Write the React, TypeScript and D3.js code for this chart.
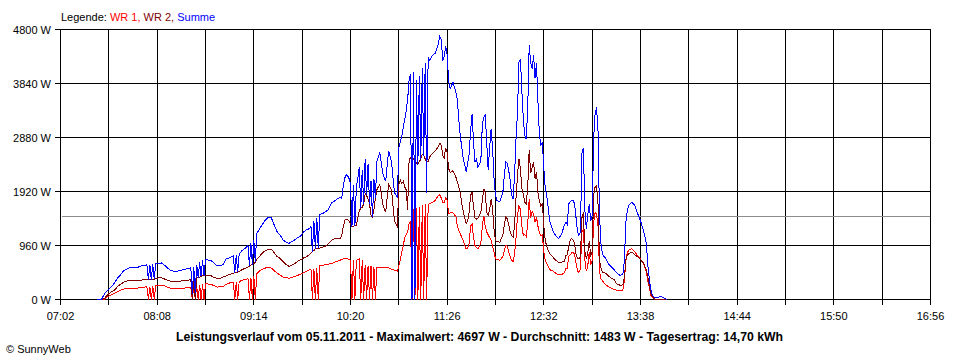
import React from "react";
import * as d3 from "d3";

// minutes since midnight
const times = [
  447,450,452,453,455,457,459,461,463,465,
  467,469,471,473,475,477,479,481,482,483,
  484,485,486,487,489,491,493,495,497,499,
  501,503,505,507,509,511,512,513,514,515,
  516,517,518,519,520,521,523,525,527,529,
  531,533,535,537,539,540,541,542,543,544,
  546,548,550,551,552,553,554,555,556,558,
  560,562,564,566,568,570,572,574,576,578,
  580,582,584,586,588,590,592,593,594,595,
  596,597,598,599,601,603,605,607,609,611,
  613,614,615,616,617,618,619,620,621,622,
  623,624,625,626,627,628,629,630,631,632,
  633,634,635,636,637,638,640,642,644,646,
  648,650,652,653,654,655,656,657,658,659,
  660,661,662,663,664,665,666,667,668,669,
  670,671,672,673,674,676,678,680,681,682,
  683,684,685,686,687,688,690,692,693,694,
  695,696,697,698,699,700,701,702,703,704,
  705,706,707,708,709,710,711,712,713,714,
  715,716,717,718,719,720,722,724,725,726,
  727,728,729,730,731,732,733,734,735,736,
  737,738,739,740,741,742,743,744,745,746,
  747,748,749,750,751,752,753,754,756,758,
  760,762,764,766,767,768,769,770,771,772,
  773,774,775,776,777,778,779,780,781,782,
  783,784,785,786,787,788,789,790,791,792,
  794,796,798,800,802,804,806,807,808,809,
  810,812,814,816,818,820,822,823,824,825,
  826,827,828,830,832,834,836,
];

// WR 1 (W)
const wr1 = [
  0,0,0,30,60,90,110,140,165,185,
  195,200,200,200,205,215,220,225,0,230,
  0,235,0,245,250,250,245,220,200,195,
  195,195,200,205,210,220,0,225,0,240,
  0,265,0,275,0,280,275,265,245,220,
  225,230,270,290,305,310,0,310,0,320,
  340,355,370,0,390,0,420,0,460,510,
  540,560,565,560,510,470,430,400,385,380,
  390,410,430,450,480,500,530,540,0,545,
  0,560,0,600,605,620,630,640,660,680,
  700,710,720,730,730,720,710,700,0,700,
  0,700,710,720,0,700,0,620,0,600,
  0,590,0,580,0,575,570,570,565,560,
  540,520,505,600,700,850,950,1100,1150,1200,
  1350,1380,0,1600,0,1620,0,1650,0,1680,
  0,1700,0,1680,1710,1720,1770,1850,1860,1800,
  1730,1720,1810,1760,1530,1540,1540,1470,1290,1230,
  1170,1100,1040,960,900,920,1000,1300,1350,1100,
  960,920,905,940,1000,1300,1490,1300,1200,1150,
  1100,1050,960,840,725,710,700,760,860,960,
  950,850,760,700,670,800,1100,1490,1670,1600,
  1300,1140,1150,1120,1350,1790,1450,1560,1520,1380,
  1460,1300,1180,1130,1150,840,700,640,530,510,
  470,440,440,480,545,550,770,790,830,840,
  800,650,500,480,550,1200,1250,700,500,600,
  840,620,700,1375,1550,1520,1300,500,370,330,
  270,230,200,180,160,160,170,330,690,830,
  880,900,850,780,720,650,480,330,230,80,
  40,10,0,0,0,0,0,
];

// WR 2 (W)
const wr2 = [
  0,0,20,50,100,140,170,230,270,305,
  325,340,340,340,340,345,350,352,355,355,
  355,360,360,370,385,385,365,340,325,325,
  325,325,330,335,345,350,0,360,0,385,
  390,400,410,420,425,425,425,420,390,375,
  370,400,420,440,460,470,475,480,490,500,
  530,555,575,590,610,620,640,660,710,770,
  830,870,895,890,830,760,730,670,620,590,
  610,640,680,710,740,760,800,820,850,870,
  900,905,910,915,930,950,990,1050,1080,1080,
  1080,1140,1280,1400,1430,1420,1400,1340,1300,1300,
  1310,1320,1450,1580,1620,1640,1700,1880,1850,1780,
  1700,1500,1460,1600,1800,1950,2050,1700,1550,2050,
  1950,1400,1300,2050,2120,2060,2100,2000,1950,1600,
  2470,2530,2520,2500,2480,2420,2410,2450,2500,2580,
  2560,2500,2450,2450,2530,2600,2650,2720,2780,2740,
  2560,2520,2700,2620,2330,2260,2290,2170,2090,1990,
  1880,1700,1560,1450,1345,1400,1560,1850,1910,1650,
  1450,1430,1450,1500,1550,1750,1970,1900,1550,1490,
  1600,1790,1600,1255,1050,1030,1020,1150,1320,1465,
  1440,1330,1200,1130,1110,1300,1800,2205,2500,2320,
  1970,1880,1730,1700,2000,2650,2250,2350,2440,2150,
  2260,1900,1750,1650,1720,1300,1050,940,810,760,
  700,665,660,680,780,790,950,1060,1080,1060,
  990,800,730,720,780,1450,1550,850,730,820,
  1040,790,840,1850,2000,2030,1700,700,560,485,
  470,420,380,350,270,255,260,390,720,780,
  820,840,800,760,710,650,520,400,260,110,
  60,20,0,0,0,0,0,
];

// Summe (W)
const summe = [
  0,0,100,130,180,230,300,380,440,505,
  540,560,565,570,575,595,605,615,355,620,
  355,625,360,640,645,650,610,560,520,505,
  500,510,525,535,550,565,100,580,120,620,
  390,665,410,695,425,710,700,690,640,600,
  605,620,720,740,760,780,475,790,490,815,
  870,910,960,590,1000,620,1060,660,1170,1260,
  1340,1420,1460,1450,1320,1200,1140,1060,1020,1000,
  1030,1060,1100,1130,1200,1240,1260,1300,850,1400,
  900,1450,910,1515,1530,1560,1600,1720,1750,1790,
  1820,1800,2000,2150,2220,2200,2150,2050,1290,2030,
  1310,2000,2150,2350,1620,2300,1700,2500,1850,2400,
  1700,2100,1460,2150,1800,2450,2620,2250,2100,2640,
  2450,1900,1820,2700,2800,2900,3050,3200,3350,3550,
  3900,4010,0,4050,0,3900,2400,3980,2500,4120,
  2550,4200,1900,4300,4250,4340,4380,4550,4680,4620,
  4250,4320,4500,4350,3880,3750,3860,3680,3540,3180,
  2900,2700,2500,2400,2265,2420,2590,3000,3300,2800,
  2450,2500,2350,2400,2470,3100,3240,3280,2800,2300,
  2700,3035,2700,2145,1850,1760,1740,1900,2200,2440,
  2420,2300,2120,1850,1790,2200,2850,3330,4220,4280,
  3700,3210,2915,2850,3400,4515,4220,4100,4340,3930,
  4200,3510,2915,2740,2800,2325,1970,1850,1400,1230,
  1140,1085,1150,1320,1375,1330,1700,1740,1760,1760,
  1700,1450,1200,1140,1200,2600,2700,1600,1255,1500,
  1700,1400,1500,2855,3300,3420,3000,1500,1000,800,
  740,640,580,530,470,430,450,700,1375,1580,
  1680,1730,1680,1530,1400,1230,1000,600,370,190,
  90,50,30,40,50,30,0,
];

const yTicks = [0, 960, 1920, 2880, 3840, 4800];
const xTickLabels = ["07:02", "08:08", "09:14", "10:20", "11:26", "12:32", "13:38", "14:44", "15:50", "16:56"];
const average = 1483;
const legendItems = [
  { text: "WR 1,", color: "#ff0000" },
  { text: "WR 2,", color: "#800000" },
  { text: "Summe", color: "#0000ff" },
];
const title = "Leistungsverlauf vom 05.11.2011 - Maximalwert: 4697 W - Durchschnitt: 1483 W - Tagesertrag: 14,70 kWh";
const copyright = "© SunnyWeb";

const FONT = "'Liberation Sans', Arial, Helvetica, sans-serif";

function toMinutes(s: string) {
  const [h, m] = s.split(":").map(Number);
  return h * 60 + m;
}

export default function App() {
  const t0 = toMinutes(xTickLabels[0]);
  const t1 = toMinutes(xTickLabels[xTickLabels.length - 1]);
  const x = d3.scaleLinear().domain([t0, t1]).range([60.5, 930.5]);
  const y = d3.scaleLinear().domain([0, 4800]).range([299.5, 29.5]);
  const gridMinutes = d3.range(t0, t1 + 1, 33);
  const mk = (vals: number[]) =>
    d3
      .line<number>()
      .x((_, i) => x(times[i]))
      .y((d) => y(d))
      .curve(d3.curveLinear)(vals) || "";

  const series = [
    { vals: wr1, color: "#ff0000" },
    { vals: wr2, color: "#800000" },
    { vals: summe, color: "#0000ff" },
  ];

  return (
    <svg
      width={960}
      height={360}
      style={{ position: "absolute", left: 0, top: 0, display: "block", background: "#fff" }}
      fontFamily={FONT}
    >
      <rect x={0} y={0} width={960} height={360} fill="#fff" />
      {/* grid */}
      <g stroke="#000" strokeWidth={1} shapeRendering="crispEdges">
        {yTicks.map((v) => (
          <line key={"h" + v} x1={55} x2={x(t1)} y1={y(v)} y2={y(v)} />
        ))}
        {gridMinutes.map((m) => (
          <line key={"v" + m} x1={x(m)} x2={x(m)} y1={y(4800)} y2={y(0) + 5} />
        ))}
      </g>
      {/* average */}
      <line
        x1={x(t0) + 1}
        x2={x(t1) - 1}
        y1={Math.round(y(average)) + 0.5}
        y2={Math.round(y(average)) + 0.5}
        stroke="#8c8c8c"
        strokeWidth={1}
        shapeRendering="crispEdges"
      />
      {/* data */}
      {series.map((s, i) => (
        <path key={i} d={mk(s.vals)} fill="none" stroke={s.color} strokeWidth={1} shapeRendering="crispEdges" />
      ))}
      {/* y labels */}
      <g fontSize={11} fill="#000" textAnchor="end">
        {yTicks.map((v) => (
          <text key={"yl" + v} x={51} y={y(v) + 4}>
            {v} W
          </text>
        ))}
      </g>
      {/* x labels */}
      <g fontSize={11} fill="#000" textAnchor="middle">
        {xTickLabels.map((l) => (
          <text key={l} x={x(toMinutes(l))} y={320}>
            {l}
          </text>
        ))}
      </g>
      {/* legend */}
      <text x={61} y={21} fontSize={11} fill="#000">
        Legende:
        {legendItems.map((it) => (
          <tspan key={it.text} fill={it.color}>
            {" " + it.text}
          </tspan>
        ))}
      </text>
      {/* title */}
      <text
        x={479.5}
        y={341}
        fontSize={12}
        fontWeight="bold"
        textAnchor="middle"
        fill="#000"
        textLength={607}
        lengthAdjust="spacingAndGlyphs"
      >
        {title}
      </text>
      <text x={6} y={353} fontSize={11} fill="#000">
        {copyright}
      </text>
    </svg>
  );
}
